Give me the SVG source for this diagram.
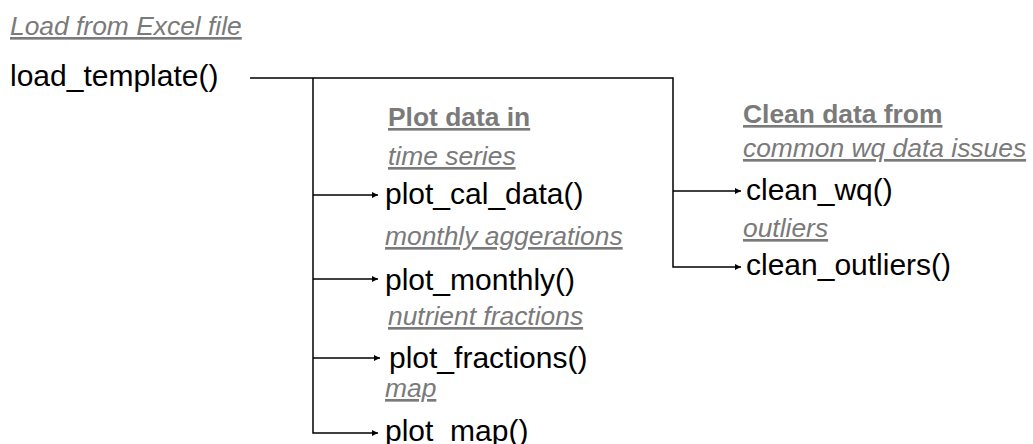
<svg xmlns="http://www.w3.org/2000/svg" width="1033" height="444" viewBox="0 0 1033 444">
<defs>
<marker id="arr" viewBox="0 0 10 10" refX="10" refY="5" markerWidth="6" markerHeight="6" markerUnits="userSpaceOnUse" orient="auto">
<path d="M0,0 L10,5 L0,10 z" fill="#000"/>
</marker>
<style>
.fn{font-family:"Liberation Sans",Arial,sans-serif;font-size:30px;fill:#000}
.lb{font-family:"Liberation Sans",Arial,sans-serif;font-size:26.4px;fill:#7a7a7a;font-style:italic;text-decoration:underline}
.hd{font-family:"Liberation Sans",Arial,sans-serif;font-size:26.4px;fill:#7a7a7a;font-weight:bold;text-decoration:underline}
.ln{fill:none;stroke:#000;stroke-width:1.5}
</style>
</defs>
<rect width="1033" height="444" fill="#fff"/>
<g id="connectors">
<polyline class="ln" points="250,78 673,78 673,267 741,267" marker-end="url(#arr)"/>
<line class="ln" x1="673" y1="191" x2="741" y2="191" marker-end="url(#arr)"/>
<polyline class="ln" points="313,78 313,433 378,433" marker-end="url(#arr)"/>
<line class="ln" x1="313" y1="195" x2="378" y2="195" marker-end="url(#arr)"/>
<line class="ln" x1="313" y1="279" x2="378" y2="279" marker-end="url(#arr)"/>
<line class="ln" x1="313" y1="358" x2="380" y2="358" marker-end="url(#arr)"/>
</g>
<g id="load_template">
<text class="lb" x="10" y="35">Load from Excel file</text>
<text class="fn" x="10" y="86">load_template()</text>
</g>
<g id="plot_header">
<text class="hd" x="388" y="126">Plot data in</text>
</g>
<g id="plot_cal_data">
<text class="lb" x="388" y="165">time series</text>
<text class="fn" x="385" y="204">plot_cal_data()</text>
</g>
<g id="plot_monthly">
<text class="lb" x="385" y="245">monthly aggerations</text>
<text class="fn" x="385" y="290">plot_monthly()</text>
</g>
<g id="plot_fractions">
<text class="lb" x="388" y="325">nutrient fractions</text>
<text class="fn" x="389" y="368">plot_fractions()</text>
</g>
<g id="plot_map">
<text class="lb" x="385" y="397">map</text>
<text class="fn" x="385" y="441">plot_map()</text>
</g>
<g id="clean_header">
<text class="hd" x="743" y="123">Clean data from</text>
</g>
<g id="clean_wq">
<text class="lb" x="743" y="157">common wq data issues</text>
<text class="fn" x="746" y="200">clean_wq()</text>
</g>
<g id="clean_outliers">
<text class="lb" x="743" y="237">outliers</text>
<text class="fn" x="746" y="275">clean_outliers()</text>
</g>
</svg>
